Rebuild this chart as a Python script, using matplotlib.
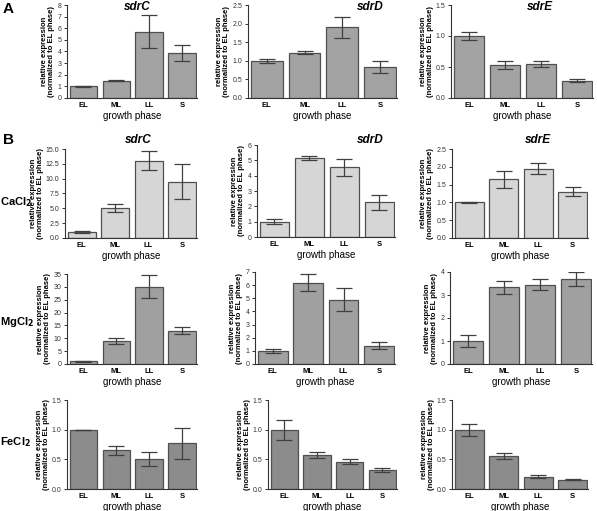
import matplotlib.pyplot as plt
import numpy as np

plt.rcParams['font.family'] = ['Liberation Sans', 'DejaVu Sans']

phases = ['EL', 'ML', 'LL', 'S']

# panel A (no added salt)
a_sdrC = [1.0, 1.5, 5.7, 3.85]
a_sdrC_err = [0.05, 0.05, 1.4, 0.7]
a_sdrD = [1.0, 1.22, 1.9, 0.83]
a_sdrD_err = [0.05, 0.04, 0.28, 0.16]
a_sdrE = [1.0, 0.53, 0.55, 0.28]
a_sdrE_err = [0.07, 0.06, 0.05, 0.03]

# panel B, CaCl2
ca_sdrC = [1.0, 5.1, 13.0, 9.5]
ca_sdrC_err = [0.2, 0.7, 1.6, 3.0]
ca_sdrD = [1.0, 5.15, 4.55, 2.25]
ca_sdrD_err = [0.15, 0.12, 0.55, 0.5]
ca_sdrE = [1.0, 1.65, 1.95, 1.3]
ca_sdrE_err = [0.02, 0.24, 0.16, 0.12]

# panel B, MgCl2
mg_sdrC = [1.0, 9.0, 30.0, 13.0]
mg_sdrC_err = [0.2, 1.3, 4.5, 1.5]
mg_sdrD = [1.0, 6.2, 4.9, 1.4]
mg_sdrD_err = [0.15, 0.65, 0.85, 0.27]
mg_sdrE = [1.0, 3.33, 3.45, 3.7]
mg_sdrE_err = [0.25, 0.28, 0.24, 0.32]

# panel B, FeCl2
fe_sdrC = [1.0, 0.65, 0.5, 0.77]
fe_sdrC_err = [0.0, 0.07, 0.12, 0.26]
fe_sdrD = [1.0, 0.58, 0.46, 0.32]
fe_sdrD_err = [0.17, 0.05, 0.04, 0.03]
fe_sdrE = [1.0, 0.55, 0.21, 0.16]
fe_sdrE_err = [0.1, 0.05, 0.02, 0.01]

W, H = 597, 511
fig = plt.figure(figsize=(W / 100, H / 100), dpi=100)


def px_axes(left, top, right, bottom):
    return fig.add_axes([left / W, 1 - bottom / H, (right - left) / W, (bottom - top) / H])


def panel(box, vals, errs, color, ticks, fmt):
    ax = px_axes(*box)
    x = np.arange(len(phases))
    ax.bar(x, vals, width=0.84, color=color, edgecolor='#505050', linewidth=0.9)
    ax.errorbar(x, vals, yerr=errs, fmt='none', ecolor='#404040', elinewidth=0.9,
                capsize=6, capthick=0.9)
    ax.set_xlim(-0.5, 3.45)
    ax.set_ylim(0, ticks[-1])
    ax.set_yticks(ticks)
    ax.set_yticklabels([fmt.format(t) for t in ticks])
    ax.set_xticks(x)
    ax.set_xticklabels(phases, fontweight='bold')
    for s in ['top', 'right']:
        ax.spines[s].set_visible(False)
    for s in ['left', 'bottom']:
        ax.spines[s].set_linewidth(0.8)
        ax.spines[s].set_color('#333333')
    ax.tick_params(axis='y', length=2.5, width=0.7, labelsize=5, pad=1.5, colors='#333333')
    ax.tick_params(axis='x', length=0, labelsize=5.5, pad=3)
    ax.set_xlabel('growth phase', fontsize=7, labelpad=1)
    ax.set_ylabel('relative expression\n(normalized to EL phase)', fontsize=5.5,
                  fontweight='bold', linespacing=1.0, labelpad=1.5)
    return ax


gray_a = '#a3a3a3'
gray_ca = '#d6d6d6'
gray_mg = '#a0a0a0'
gray_fe = '#8c8c8c'

# row A
panel((67, 5, 197, 98), a_sdrC, a_sdrC_err, gray_a, list(range(0, 9)), '{:.0f}')
panel((248, 5, 397, 98), a_sdrD, a_sdrD_err, gray_a, [0, 0.5, 1.0, 1.5, 2.0, 2.5], '{:.1f}')
panel((451, 5, 593, 98), a_sdrE, a_sdrE_err, gray_a, [0, 0.5, 1.0, 1.5], '{:.1f}')

# row CaCl2
panel((65, 149, 197, 238), ca_sdrC, ca_sdrC_err, gray_ca,
      [0, 2.5, 5.0, 7.5, 10.0, 12.5, 15.0], '{:.1f}')
panel((257, 145, 395, 237), ca_sdrD, ca_sdrD_err, gray_ca, list(range(0, 7)), '{:.0f}')
panel((452, 149, 588, 238), ca_sdrE, ca_sdrE_err, gray_ca,
      [0, 0.5, 1.0, 1.5, 2.0, 2.5], '{:.1f}')

# row MgCl2
panel((67, 274, 197, 364), mg_sdrC, mg_sdrC_err, gray_mg, list(range(0, 36, 5)), '{:.0f}')
panel((255, 272, 395, 364), mg_sdrD, mg_sdrD_err, gray_mg, list(range(0, 8)), '{:.0f}')
panel((450, 272, 592, 364), mg_sdrE, mg_sdrE_err, gray_mg, list(range(0, 5)), '{:.0f}')

# row FeCl2
panel((67, 400, 197, 489), fe_sdrC, fe_sdrC_err, gray_fe, [0, 0.5, 1.0, 1.5], '{:.1f}')
panel((268, 400, 397, 489), fe_sdrD, fe_sdrD_err, gray_fe, [0, 0.5, 1.0, 1.5], '{:.1f}')
panel((452, 400, 588, 489), fe_sdrE, fe_sdrE_err, gray_fe, [0, 0.5, 1.0, 1.5], '{:.1f}')

# titles
def ftext(x, y, s, **kw):
    fig.text(x / W, 1 - y / H, s, **kw)


for x, y, s in [(137, 7, 'sdrC'), (370, 7, 'sdrD'), (540, 7, 'sdrE'),
                (138, 140, 'sdrC'), (370, 140, 'sdrD'), (538, 140, 'sdrE')]:
    ftext(x, y, s, ha='center', va='center', fontsize=8.5, fontweight='bold', style='italic')

ftext(3, 9, 'A', ha='left', va='center', fontsize=11, fontweight='bold')
ftext(3, 140, 'B', ha='left', va='center', fontsize=11, fontweight='bold')
ftext(0, 202, 'CaCl$_\\mathbf{2}$', ha='left', va='center', fontsize=8, fontweight='bold')
ftext(0, 322, 'MgCl$_\\mathbf{2}$', ha='left', va='center', fontsize=8, fontweight='bold')
ftext(0, 442, 'FeCl$_\\mathbf{2}$', ha='left', va='center', fontsize=8, fontweight='bold')

fig.savefig('out.png', dpi=100)
